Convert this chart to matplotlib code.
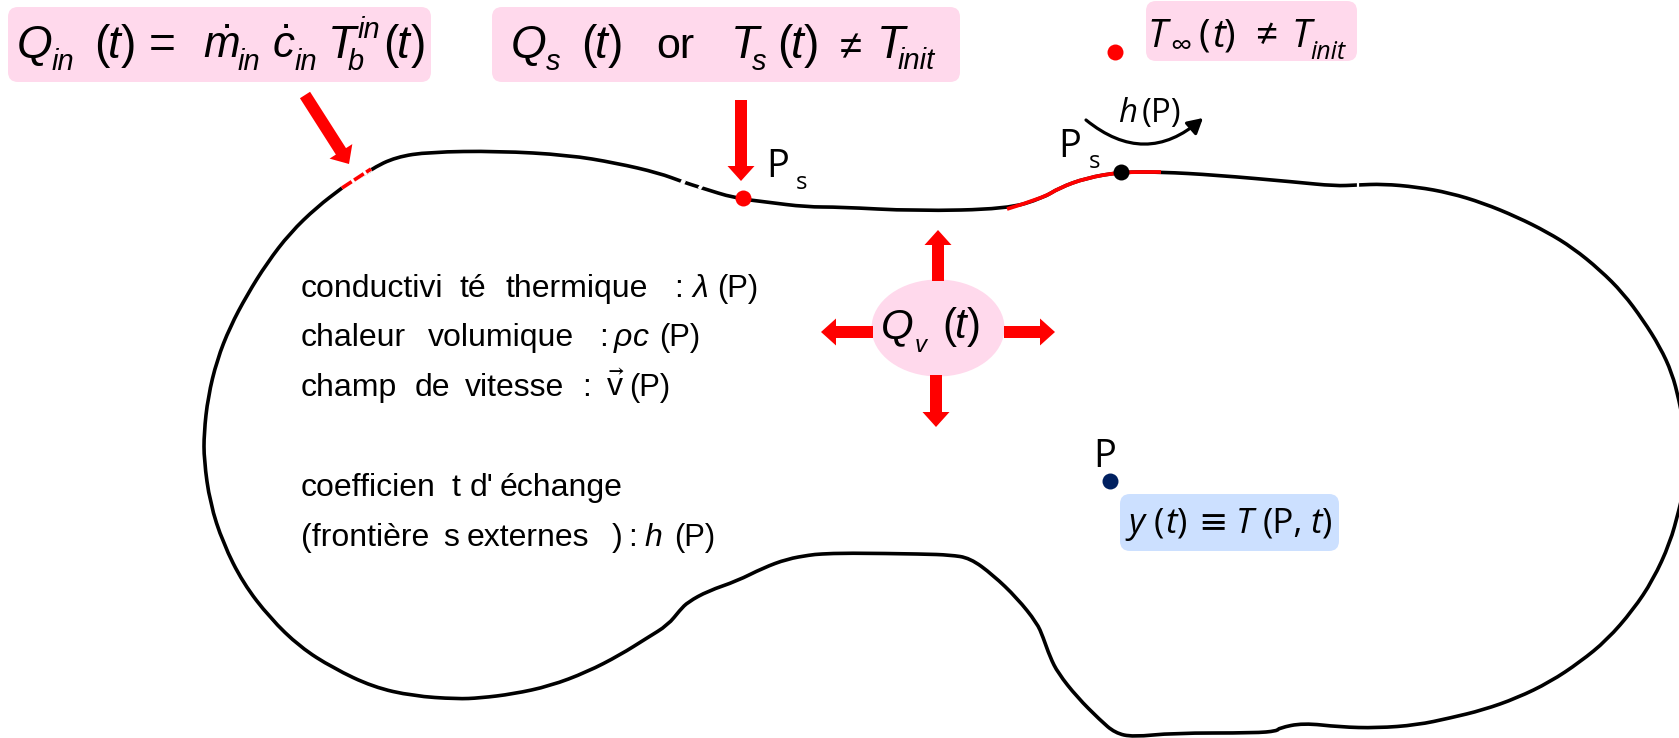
import matplotlib
matplotlib.use("Agg")
import matplotlib.pyplot as plt
from matplotlib.path import Path
from matplotlib.patches import PathPatch, FancyBboxPatch, Ellipse, FancyArrow, FancyArrowPatch

plt.rcParams['mathtext.fontset'] = 'custom'
plt.rcParams['mathtext.rm'] = 'Liberation Sans'
plt.rcParams['mathtext.it'] = 'Liberation Sans:italic'
plt.rcParams['mathtext.bf'] = 'Liberation Sans:bold'
plt.rcParams['mathtext.fallback'] = 'stixsans'

# Outline of the domain (it runs past the right edge and is cut there)
contour_x = [342, 371, 396, 429, 498, 568, 616, 659, 683, 702, 734, 766, 806, 840, 915, 1007, 1043, 1059, 1086,
             1121, 1161, 1215, 1295, 1335, 1357, 1383, 1417, 1450, 1483, 1517, 1547, 1573, 1600, 1623, 1643, 1660,
             1672, 1679, 1685, 1687, 1685, 1679, 1670, 1653, 1633, 1607, 1580, 1550, 1517, 1483, 1450, 1417, 1377,
             1340, 1303, 1279, 1277, 1255, 1173, 1133, 1115, 1100, 1077, 1058, 1050, 1043, 1037, 1017, 993, 970,
             950, 923, 847, 820, 810, 787, 763, 737, 708, 688, 680, 668, 647, 620, 587, 550, 513, 480, 457, 413,
             373, 333, 300, 270, 243, 223, 210, 204, 204, 208, 217, 230, 247, 267, 290, 317, 342]
contour_y = [188, 169, 157, 152, 151, 155, 163, 173, 182, 188, 198, 202, 207, 207, 211, 209, 198, 188, 178,
             172, 172, 175, 182, 186, 185, 184, 187, 193, 203, 217, 232, 248, 270, 293, 320, 347,
             373, 400, 430, 455, 485, 510, 543, 580, 610, 640, 662, 682, 698, 710, 718, 725, 728,
             727, 723, 728, 731, 733, 733, 737, 733, 720, 697, 673, 657, 637, 623, 598, 575, 558,
             555, 554, 553, 554, 555, 559, 568, 581, 591, 602, 610, 625, 638, 655, 672, 686, 694, 698, 699, 696,
             687, 668, 647, 618, 583, 543, 503, 460, 433, 397, 360, 327, 295, 263, 233, 207, 188]
red_inlet_x = [342, 371]
red_inlet_y = [188, 169]
red_wall_x = [1007, 1043, 1059, 1086, 1121, 1161]
red_wall_y = [209, 198, 188, 178, 172, 172]
gap_x = [[681, 685], [699, 702], [1358, 1358]]
gap_y = [[181, 183], [186, 188], [179, 191]]

PINK = '#FFD9EC'
BLUE = '#CCE0FF'
RED = '#FF0000'
NAVY = '#002060'
SANS = 'Liberation Sans'
CAL = ['Open Sans', 'DejaVu Sans']

boxes = [(8, 7, 423, 75, PINK), (492, 7, 468, 75, PINK), (1146, 1, 211, 60, PINK), (1120, 494, 219, 57, BLUE)]
points = [(743, 198, RED), (1115, 52, RED), (1121, 172, 'black'), (1110, 481, NAVY)]
arrows = [(305, 95, 44, 69), (741, 100, 0, 81), (938, 281, 0, -51), (1004, 332, 51, 0), (873, 332, -52, 0), (936, 375, 0, 52)]

# x, baseline y, text, em in pixels, family, style
pieces = [
    (17, 58, 'Q', 46, SANS, 'italic'), (52, 70, 'in', 29, SANS, 'italic'), (94, 58, '(', 46, SANS, 'normal'),
    (108, 58, 't', 46, SANS, 'italic'), (121, 58, ')', 46, SANS, 'normal'), (149, 58, '=', 46, SANS, 'normal'),
    (203, 58, r'$\dot{m}$', 44, SANS, 'normal'), (238, 70, 'in', 29, SANS, 'italic'),
    (272, 58, r'$\dot{c}$', 44, SANS, 'normal'), (295, 70, 'in', 29, SANS, 'italic'),
    (328, 58, 'T', 46, SANS, 'italic'), (358, 38, 'in', 29, SANS, 'italic'), (348, 70, 'b', 29, SANS, 'italic'),
    (383, 58, '(', 46, SANS, 'normal'), (397, 58, 't', 46, SANS, 'italic'), (411, 58, ')', 46, SANS, 'normal'),
    (511, 58, 'Q', 46, SANS, 'italic'), (546, 70, 's', 29, SANS, 'italic'), (581, 58, '(', 46, SANS, 'normal'),
    (595, 58, 't', 46, SANS, 'italic'), (608, 58, ')', 46, SANS, 'normal'), (656, 58, 'or', 43, SANS, 'normal'),
    (731, 58, 'T', 46, SANS, 'italic'), (752, 70, 's', 29, SANS, 'italic'), (777, 58, '(', 46, SANS, 'normal'),
    (791, 58, 't', 46, SANS, 'italic'), (804, 58, ')', 46, SANS, 'normal'), (833, 58, r'$\neq$', 40, SANS, 'normal'),
    (877, 58, 'T', 46, SANS, 'italic'), (898, 69, 'init', 29, SANS, 'italic'),
    (1147, 47, 'T', 39, CAL, 'italic'), (1170, 55, '∞', 30, CAL, 'normal'), (1199, 47, '(', 39, CAL, 'normal'),
    (1212, 47, 't', 39, CAL, 'italic'), (1224, 47, ')', 39, CAL, 'normal'),
    (1255, 47, '≠', 39, CAL, 'normal'), (1291, 47, 'T', 39, CAL, 'italic'), (1310, 59, 'init', 25, CAL, 'italic'),
    (766, 177, 'P', 38, CAL, 'normal'), (796, 189, 's', 24, CAL, 'normal'),
    (1058, 157, 'P', 38, CAL, 'normal'), (1089, 168, 's', 24, CAL, 'normal'),
    (1118, 122, 'h', 33, CAL, 'italic'), (1142, 122, '(P)', 33, CAL, 'normal'),
    (1093, 467, 'P', 38, CAL, 'normal'),
    (1128, 533, 'y', 35, CAL, 'italic'), (1154, 533, '(', 35, CAL, 'normal'), (1165, 533, 't', 35, CAL, 'italic'),
    (1177, 533, ')', 35, CAL, 'normal'), (1198, 533, '≡', 35, CAL, 'normal'), (1236, 533, 'T', 35, CAL, 'italic'),
    (1263, 533, '(P,', 35, CAL, 'normal'), (1310, 533, 't', 35, CAL, 'italic'), (1322, 533, ')', 35, CAL, 'normal'),
    (881, 338, 'Q', 42, SANS, 'italic'), (915, 352, 'v', 24, SANS, 'italic'), (942, 338, '(', 42, SANS, 'normal'),
    (954, 338, 't', 42, SANS, 'italic'), (967, 338, ')', 42, SANS, 'normal'),
    (301, 297, 'conductivi', 32, SANS, 'normal'), (460, 297, 'té', 32, SANS, 'normal'),
    (506, 297, 'thermique', 32, SANS, 'normal'), (674, 297, ':', 32, SANS, 'normal'),
    (691, 297, r'$\lambda$', 32, SANS, 'normal'), (717, 297, '(P)', 31, SANS, 'normal'),
    (301, 346, 'chaleur', 32, SANS, 'normal'), (428, 346, 'volumique', 32, SANS, 'normal'),
    (599, 346, ':', 32, SANS, 'normal'), (613, 346, r'$\rho c$', 32, SANS, 'normal'), (659, 346, '(P)', 31, SANS, 'normal'),
    (301, 396, 'champ', 32, SANS, 'normal'), (415, 396, 'de', 32, SANS, 'normal'), (465, 396, 'vitesse', 32, SANS, 'normal'),
    (582, 396, ':', 32, SANS, 'normal'), (606, 396, r'$\vec{\mathrm{v}}$', 32, SANS, 'normal'), (629, 396, '(P)', 31, SANS, 'normal'),
    (301, 496, 'coefficien', 32, SANS, 'normal'), (451, 496, 't', 32, SANS, 'normal'), (470, 496, "d'", 32, SANS, 'normal'),
    (500, 496, 'échange', 32, SANS, 'normal'),
    (301, 546, '(frontière', 32, SANS, 'normal'), (443, 546, 's', 32, SANS, 'normal'), (467, 546, 'externes', 32, SANS, 'normal'),
    (612, 546, ')', 32, SANS, 'normal'), (628, 546, ':', 32, SANS, 'normal'), (644, 546, 'h', 32, SANS, 'italic'),
    (674, 546, '(P)', 31, SANS, 'normal'),
]

DPI = 100
fig = plt.figure(figsize=(1679 / DPI, 738 / DPI), dpi=DPI)
ax = fig.add_axes([0, 0, 1, 1])
ax.set_xlim(0, 1679)
ax.set_ylim(738, 0)
ax.axis('off')


def smooth_path(xs, ys):
    pts = list(zip(xs, ys))
    verts = [pts[0]]
    codes = [Path.MOVETO]
    for i in range(1, len(pts) - 1):
        mid = ((pts[i][0] + pts[i + 1][0]) / 2, (pts[i][1] + pts[i + 1][1]) / 2)
        verts += [pts[i], mid]
        codes += [Path.CURVE3, Path.CURVE3]
    verts.append(pts[-1])
    codes.append(Path.LINETO)
    return Path(verts, codes)


for x, y, w, h, c in boxes:
    ax.add_patch(FancyBboxPatch((x + 8, y + 8), w - 16, h - 16, boxstyle='round,pad=8,rounding_size=10',
                                fc=c, ec='none', zorder=1))
ax.add_patch(Ellipse((938, 328), 133, 97, fc=PINK, ec='none', zorder=1))

ax.add_patch(PathPatch(smooth_path(contour_x, contour_y), fc='none', ec='black', lw=2.6, zorder=2))
ax.plot(red_inlet_x, red_inlet_y, color='white', lw=3.8, solid_capstyle='butt', zorder=3)
ax.plot(red_inlet_x, red_inlet_y, color=RED, lw=2.6, dashes=(3.2, 0.8), zorder=4)
ax.add_patch(PathPatch(smooth_path(red_wall_x, red_wall_y), fc='none', ec=RED, lw=2.7, zorder=3))
for gx, gy in zip(gap_x, gap_y):
    ax.plot(gx, gy, color='white', lw=1.6 if gx[0] == gx[1] else 3.6, solid_capstyle='butt', zorder=3)

for x, y, dx, dy in arrows:
    ax.add_patch(FancyArrow(x, y, dx, dy, width=12, head_width=27, head_length=15,
                            length_includes_head=True, fc=RED, ec='none', zorder=3))

for x, y, c in points:
    ax.plot([x], [y], 'o', ms=11.5, mfc=c, mec='none', zorder=5)

ax.add_patch(FancyArrowPatch((1086, 120), (1203, 118), connectionstyle='arc3,rad=0.42',
                             arrowstyle='-|>,head_length=9,head_width=5', lw=2.3, color='black',
                             shrinkA=0, shrinkB=0, zorder=3))

for x, y, s, em, fam, style in pieces:
    ax.text(x, y, s, fontsize=em * 72 / DPI, family=fam, style=style, ha='left', va='baseline', color='black', zorder=6)

fig.savefig('out.png', dpi=DPI, facecolor='white')
